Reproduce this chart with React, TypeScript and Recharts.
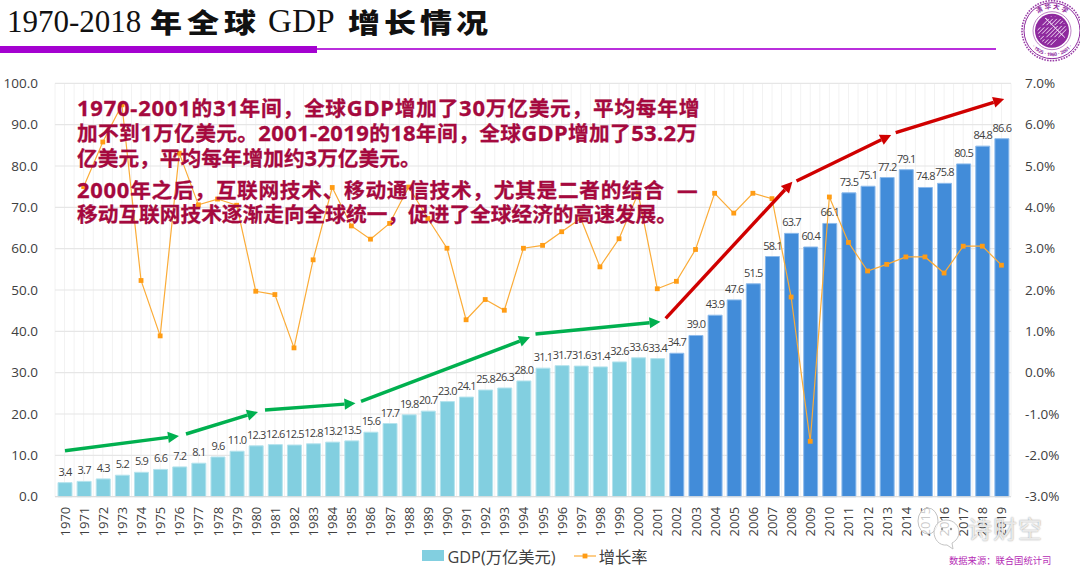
import React from 'react'
import {
  ComposedChart,
  Bar,
  Line,
  Cell,
  XAxis,
  YAxis,
  CartesianGrid,
  LabelList,
  Legend
} from 'recharts'

const years = [
  1970, 1971, 1972, 1973, 1974, 1975, 1976, 1977, 1978, 1979,
  1980, 1981, 1982, 1983, 1984, 1985, 1986, 1987, 1988, 1989,
  1990, 1991, 1992, 1993, 1994, 1995, 1996, 1997, 1998, 1999,
  2000, 2001, 2002, 2003, 2004, 2005, 2006, 2007, 2008, 2009,
  2010, 2011, 2012, 2013, 2014, 2015, 2016, 2017, 2018, 2019
]

const gdp = [
  3.4, 3.7, 4.3, 5.2, 5.9, 6.6, 7.2, 8.1, 9.6, 11.0,
  12.3, 12.6, 12.5, 12.8, 13.2, 13.5, 15.6, 17.7, 19.8, 20.7,
  23.0, 24.1, 25.8, 26.3, 28.0, 31.1, 31.7, 31.6, 31.4, 32.6,
  33.6, 33.4, 34.7, 39.0, 43.9, 47.6, 51.5, 58.1, 63.7, 60.4,
  66.1, 73.5, 75.1, 77.2, 79.1, 74.8, 75.8, 80.5, 84.8, 86.6
]

const growth = [
  null, 4.5, 5.58, 6.48, 2.23, 0.89, 5.31, 4.06, 4.2, 4.05,
  1.97, 1.89, 0.6, 2.73, 4.48, 3.55, 3.23, 3.61, 4.49, 3.73,
  3.01, 1.28, 1.77, 1.51, 3.01, 3.08, 3.41, 3.73, 2.56, 3.24,
  4.34, 2.03, 2.21, 2.98, 4.34, 3.86, 4.34, 4.21, 1.83, -1.66,
  4.25, 3.15, 2.46, 2.62, 2.8, 2.8, 2.41, 3.06, 3.06, 2.6
]

const leftTicks = [0, 10, 20, 30, 40, 50, 60, 70, 80, 90, 100]
const rightTicks = [-3, -2, -1, 0, 1, 2, 3, 4, 5, 6, 7]

const noteLines = [
  '1970-2001的31年间，全球GDP增加了30万亿美元，平均每年增',
  '加不到1万亿美元。2001-2019的18年间，全球GDP增加了53.2万',
  '亿美元，平均每年增加约3万亿美元。',
  '2000年之后，互联网技术、移动通信技术，尤其是二者的结合  —',
  '移动互联网技术逐渐走向全球统一，促进了全球经济的高速发展。'
]
const noteCenters = [106.5, 131.5, 157, 189, 214]
const noteSpacing = [0.75, 0.35, 0, 0.7, 0]

// [x1, y1, x2, y2] in page pixels, annotation only
const greenArrows = [
  [65, 450.7, 179, 436],
  [186, 434, 258, 412],
  [265, 410, 355.5, 403.3],
  [361, 401.3, 530, 337.3],
  [535.5, 334, 660.5, 321.7]
]
const redArrows = [
  [665.7, 318.3, 792.4, 181.7],
  [796.5, 181, 891.2, 135],
  [895.7, 132.7, 1004.2, 99]
]

const chartData = years.map((year, i) => ({ year, gdp: gdp[i], growth: growth[i] }))

const LIGHT_BAR = '#82cfe0'
const DARK_BAR = '#428cd9'
const TEXT = '#404040'
const FONT = '"Open Sans", "Noto Sans CJK SC", sans-serif'

const Arrow = ({ line, color }: { line: number[]; color: string }) => {
  const [x1, y1, x2, y2] = line
  const len = Math.hypot(x2 - x1, y2 - y1)
  const ux = (x2 - x1) / len
  const uy = (y2 - y1) / len
  const head = 11
  const half = 5.6
  const bx = x2 - ux * head
  const by = y2 - uy * head
  const points = `${x2},${y2} ${bx - uy * half},${by + ux * half} ${bx + uy * half},${by - ux * half}`
  return (
    <g>
      <line x1={x1} y1={y1} x2={bx} y2={by} stroke={color} strokeWidth={3.4} />
      <polygon points={points} fill={color} />
    </g>
  )
}

const SquareDot = (props: any) => {
  const { cx, cy, index } = props
  if (cy == null) return <g key={index} />
  return <rect key={index} x={cx - 2.4} y={cy - 2.4} width={4.8} height={4.8} fill="#ff9c14" />
}

const YearTick = (props: any) => {
  const { x, y, payload } = props
  return (
    <text
      transform={`translate(${x},${y + 8}) rotate(-90)`}
      textAnchor="end"
      dominantBaseline="central"
      fontSize={13}
      fill={TEXT}
      fontFamily={FONT}
    >
      {payload.value}
    </text>
  )
}

const ChartLegend = () => (
  <div
    style={{
      display: 'flex',
      justifyContent: 'center',
      alignItems: 'center',
      height: 30,
      fontFamily: FONT,
      fontSize: 16.3,
      color: TEXT,
      paddingRight: 10
    }}
  >
    <span style={{ width: 22, height: 11, background: LIGHT_BAR, marginRight: 3 }} />
    <span>GDP(万亿美元)</span>
    <svg width={22} height={10} style={{ marginLeft: 18, marginRight: 3 }}>
      <line x1={0} y1={5} x2={22} y2={5} stroke="#fbac38" strokeWidth={1.2} />
      <rect x={8.6} y={2.6} width={4.8} height={4.8} fill="#ff9c14" />
    </svg>
    <span>增长率</span>
  </div>
)

// note text: latin runs sit a little larger than the CJK runs
const NoteText = ({ text }: { text: string }) => (
  <>
    {text.split(/([0-9A-Za-z.\-]+)/).map((part, i) =>
      i % 2 === 1 ? <span key={i} style={{ fontSize: 22 }}>{part}</span> : <span key={i}>{part}</span>
    )}
  </>
)

const sealBars = [-15, -11, -7, -3, 1, 5, 9, 13]

const Seal = () => {
  const cx = 1052
  const cy = 30.7
  return (
    <svg width={70} height={66} viewBox="1017 0 70 66" style={{ position: 'absolute', left: 1017, top: 0 }}>
      <circle cx={cx} cy={cy} r={30} fill="none" stroke="#9a3fa8" strokeWidth={1.6} strokeDasharray="1.6 1.2" />
      <circle cx={cx} cy={cy} r={28} fill="none" stroke="#8e2a9e" strokeWidth={1} />
      <circle cx={cx} cy={cy} r={19} fill="none" stroke="#8e2a9e" strokeWidth={0.6} />
      <circle cx={cx} cy={cy} r={17} fill="#8e2a9e" />
      <defs>
        <path id="sealTop" d={`M ${cx - 22} ${cy} A 22 22 0 0 1 ${cx + 22} ${cy}`} />
        <path id="sealBottom" d={`M ${cx - 25.5} ${cy} A 25.5 25.5 0 0 0 ${cx + 25.5} ${cy}`} />
        <clipPath id="sealDisc">
          <circle cx={cx} cy={cy} r={14.5} />
        </clipPath>
      </defs>
      <text fontSize={6.5} fill="#8e2a9e" fontWeight={700} fontFamily='"Noto Sans CJK SC"'>
        <textPath href="#sealTop" startOffset="50%" textAnchor="middle">清 华 大 学</textPath>
      </text>
      <text fontSize={4.8} fill="#8e2a9e" fontWeight={700} fontFamily={FONT}>
        <textPath href="#sealBottom" startOffset="50%" textAnchor="middle">· 1925 · 1960 · 2001 ·</textPath>
      </text>
      <g clipPath="url(#sealDisc)" stroke="#f3e3f5" strokeWidth={1} fill="none">
        {sealBars.map((d) => (
          <path
            key={d}
            d={`M ${cx - 20 + d} ${cy + 20} L ${cx + 20 + d} ${cy - 20}`}
            strokeDasharray={d % 4 === 1 ? '16 3' : '9 3'}
          />
        ))}
        {sealBars.map((d) => (
          <path key={d} d={`M ${cx + d} ${cy + d - 6} l 6 6`} />
        ))}
      </g>
    </svg>
  )
}

const App = () => {
  const gridX = ({ offset }: any) => {
    const step = offset.width / years.length / 2
    return Array.from({ length: years.length * 2 + 1 }, (_, i) => offset.left + i * step)
  }

  const serifTitle = { position: 'absolute', top: 4, fontFamily: '"Liberation Serif", serif', color: '#111', whiteSpace: 'nowrap' } as const
  const cjkTitle = { position: 'absolute', top: 1, fontFamily: '"Noto Sans CJK SC"', fontWeight: 900, fontSize: 32, color: '#111', whiteSpace: 'nowrap', lineHeight: '40px', transform: 'scaleY(0.85)' } as const

  return (
    <div
      style={{
        position: 'absolute',
        left: 0,
        top: 0,
        width: 1080,
        height: 574,
        overflow: 'hidden',
        background: '#fff'
      }}
    >
      {/* title */}
      <div style={{ ...serifTitle, left: 7, fontSize: 31 }}>1970-2018</div>
      <div style={{ ...cjkTitle, left: 150, letterSpacing: 5 }}>年全球</div>
      <div style={{ ...serifTitle, left: 268, top: 3, fontSize: 33, letterSpacing: 0.3 }}>GDP</div>
      <div style={{ ...cjkTitle, left: 348, letterSpacing: 4 }}>增长情况</div>
      <div style={{ position: 'absolute', left: 0, top: 46, width: 317, height: 7, background: '#a402d0' }} />
      <div style={{ position: 'absolute', left: 317, top: 48, width: 679, height: 2, background: '#b92fdc' }} />
      <Seal />

      <ComposedChart
        width={1080}
        height={574}
        data={chartData}
        margin={{ top: 83.3, right: 0, bottom: 3.3, left: 0 }}
        style={{ position: 'absolute', left: 0, top: 0 }}
      >
        <CartesianGrid
          yAxisId="left"
          stroke="#f2f2f2"
          horizontal={false}
          verticalCoordinatesGenerator={gridX}
        />
        <CartesianGrid yAxisId="left" stroke="#e6e6e6" strokeWidth={1.2} vertical={false} />
        <XAxis
          dataKey="year"
          interval={0}
          height={44}
          tick={<YearTick />}
          tickLine={false}
          tickSize={0}
          axisLine={{ stroke: '#dcdcdc' }}
        />
        <YAxis
          yAxisId="left"
          width={55}
          domain={[0, 100]}
          ticks={leftTicks}
          tickFormatter={(v: number) => v.toFixed(1)}
          tick={{ fontSize: 13.5, fill: TEXT, fontFamily: FONT }}
          tickLine={false}
          tickSize={0}
          tickMargin={17}
          axisLine={false}
        />
        <YAxis
          yAxisId="right"
          orientation="right"
          width={69}
          domain={[-3, 7]}
          ticks={rightTicks}
          tickFormatter={(v: number) => `${v.toFixed(1)}%`}
          tick={{ fontSize: 13.5, fill: TEXT, fontFamily: FONT }}
          tickLine={false}
          tickSize={0}
          tickMargin={14}
          axisLine={false}
        />
        <Legend verticalAlign="bottom" content={<ChartLegend />} />
        <Bar yAxisId="left" dataKey="gdp" barSize={14} isAnimationActive={false}>
          {chartData.map((d) => (
            <Cell
              key={d.year}
              fill={d.year <= 2001 ? LIGHT_BAR : DARK_BAR}
              stroke={d.year <= 2001 ? '#b5e3ed' : '#8dbbec'}
              strokeWidth={1}
            />
          ))}
          <LabelList
            dataKey="gdp"
            position="top"
            offset={7}
            formatter={(v: number) => v.toFixed(1)}
            style={{ fontSize: 11, fill: TEXT, fontFamily: FONT, letterSpacing: -0.8 }}
          />
        </Bar>
        <Line
          yAxisId="right"
          dataKey="growth"
          stroke="#fbac38"
          strokeWidth={1.2}
          dot={<SquareDot />}
          activeDot={false}
          connectNulls={false}
          isAnimationActive={false}
        />
      </ComposedChart>

      <svg width={1080} height={574} style={{ position: 'absolute', left: 0, top: 0, pointerEvents: 'none' }}>
        {greenArrows.map((a, i) => <Arrow key={i} line={a} color="#00b04f" />)}
        {redArrows.map((a, i) => <Arrow key={i} line={a} color="#d00000" />)}
      </svg>

      {noteLines.map((t, i) => (
        <div
          key={i}
          style={{
            position: 'absolute',
            left: 77,
            top: noteCenters[i] - 14,
            lineHeight: '28px',
            fontFamily: '"Noto Sans", "Noto Sans CJK SC", sans-serif',
            fontWeight: 700,
            fontSize: 20.7,
            letterSpacing: noteSpacing[i],
            color: '#a5093e',
            WebkitTextStroke: '0.3px #a5093e',
            whiteSpace: 'pre'
          }}
        >
          <NoteText text={t} />
        </div>
      ))}

      {/* watermark */}
      <svg width={50} height={48} style={{ position: 'absolute', left: 915, top: 504 }}>
        <g fill="rgba(255,255,255,0.72)" stroke="#c4c4c4" strokeWidth={1}>
          <ellipse cx={13} cy={17} rx={10} ry={13} />
          <path d="M 31 16 C 39 16 44 22 44 28 C 44 33 41 37 37 39 L 38 45 L 32 41 C 24 42 19 35 19 28 C 19 22 24 16 31 16 Z" />
        </g>
        <circle cx={27} cy={25} r={1.2} fill="#9a9a9a" />
        <circle cx={36} cy={25} r={1.2} fill="#9a9a9a" />
      </svg>
      <div
        style={{
          position: 'absolute',
          left: 968,
          top: 512,
          fontFamily: '"Noto Sans CJK SC"',
          fontSize: 24,
          letterSpacing: 1,
          color: 'rgba(255,255,255,0.78)',
          textShadow: '0 0 1.5px #888',
          whiteSpace: 'nowrap',
          lineHeight: '32px'
        }}
      >
        诗财空
      </div>

      <div
        style={{
          position: 'absolute',
          left: 949,
          top: 553,
          lineHeight: '14px',
          fontFamily: '"Noto Sans CJK SC"',
          fontSize: 9.3,
          color: '#b52bb5',
          whiteSpace: 'nowrap'
        }}
      >
        数据来源：联合国统计司
      </div>
    </div>
  )
}

export default App
